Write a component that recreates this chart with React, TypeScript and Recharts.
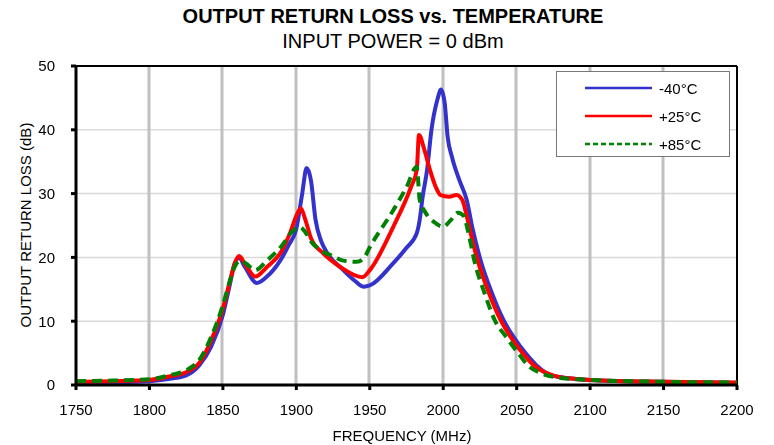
import React from 'react';
import { LineChart, Line, XAxis, YAxis, CartesianGrid, ReferenceLine } from 'recharts';

// Frequency ticks and return loss ticks
const FREQ_TICKS = [1750, 1800, 1850, 1900, 1950, 2000, 2050, 2100, 2150, 2200];
const LOSS_TICKS = [0, 10, 20, 30, 40, 50];

// -40°C
const coldFreq = [1750, 1775, 1800, 1815, 1825, 1834, 1842, 1850, 1855, 1858, 1861, 1865, 1873, 1880, 1889, 1895, 1900, 1904, 1907, 1910, 1913, 1917, 1921, 1932, 1940, 1946, 1950, 1966, 1975, 1982, 1984, 1986, 1989, 1992, 1996, 1998.5, 2001, 2003, 2006, 2011, 2016, 2020, 2026, 2033, 2041, 2048, 2056, 2063, 2070, 2080, 2100, 2150, 2200];
const coldLoss = [0.3, 0.4, 0.6, 1.0, 1.5, 3.1, 6, 11, 16, 19, 19.9, 18.5, 16, 17, 19.5, 22, 24.5, 30, 34, 32, 26, 22.5, 20.7, 18, 16.3, 15.4, 15.6, 19.1, 21.5, 23.8, 25.9, 29.5, 33.7, 40, 44.7, 46.3, 44.2, 38.9, 35.7, 32.1, 29, 24.5, 19.1, 14.5, 10.2, 7.5, 5.0, 3.2, 1.9, 1.2, 0.8, 0.5, 0.3];

// +25°C
const roomFreq = [1750, 1775, 1800, 1815, 1825, 1835, 1842, 1850, 1855, 1858, 1861, 1865, 1872, 1880, 1890, 1896, 1900, 1903, 1906, 1910, 1918, 1930, 1945, 1950, 1966, 1978, 1982, 1983.5, 1987, 1991, 1995, 1998, 2004, 2009, 2013, 2016, 2020, 2024, 2031, 2039, 2046, 2054, 2062, 2070, 2080, 2100, 2150, 2200];
const roomLoss = [0.5, 0.6, 0.8, 1.4, 2.0, 3.8, 7, 12, 16.5, 19, 20.2, 19, 17, 18.5, 21, 24, 26.5, 27.7, 26, 23, 20.7, 18.5, 16.9, 18, 24.8, 31, 33.7, 39.2, 37, 33.7, 31, 29.8, 29.5, 29.8, 29, 26.5, 22.5, 19.1, 14.5, 10.2, 7.5, 5, 3, 1.9, 1.2, 0.8, 0.5, 0.4];

// +85°C
const hotFreq = [1750, 1775, 1800, 1815, 1825, 1835, 1842, 1850, 1855, 1858, 1862, 1866, 1872, 1880, 1890, 1897, 1902, 1906, 1910, 1916, 1924, 1932, 1941, 1946, 1950, 1966, 1975, 1982, 1984, 1988, 1994, 2000, 2005, 2010, 2014, 2017, 2021.6, 2028, 2035, 2043, 2051, 2058, 2066, 2080, 2100, 2150, 2200];
const hotLoss = [0.6, 0.7, 0.9, 1.6, 2.3, 4.3, 7.5, 12.5, 16.5, 18.5, 19.5, 19, 18, 19.5, 21.8, 24, 24.8, 24, 22.5, 21.2, 20.3, 19.5, 19.3, 19.9, 21.6, 27.4, 31, 34.2, 29, 27, 25.5, 24.8, 25.8, 27, 26.5, 24, 19.1, 14.5, 10.2, 7.5, 5, 3, 1.9, 1.1, 0.8, 0.5, 0.4];

const toPoints = (f: number[], v: number[]) => f.map((freq, i) => ({ freq, loss: v[i] }));

const series = [
  { name: '-40°C', data: toPoints(coldFreq, coldLoss), color: '#3333cc', dash: undefined },
  { name: '+25°C', data: toPoints(roomFreq, roomLoss), color: '#ff0000', dash: undefined },
  { name: '+85°C', data: toPoints(hotFreq, hotLoss), color: '#008000', dash: '10 6' },
];

const FONT = '"Liberation Sans", Arial, sans-serif';

function LegendBox() {
  return (
    <div style={{ position: 'absolute', left: 556, top: 71, width: 174, height: 86, border: '1px solid #777', background: '#fff', boxSizing: 'border-box', paddingTop: 2, fontSize: 15 }}>
      {series.map((s) => (
        <div key={s.name} style={{ display: 'flex', alignItems: 'center', height: 28 }}>
          <svg width={70} height={6} style={{ marginLeft: 28 }}>
            <line x1={0} y1={3} x2={67} y2={3} stroke={s.color} strokeWidth={2.5} strokeDasharray={s.dash ? '5 3' : undefined} />
          </svg>
          <span style={{ marginLeft: 4, color: '#000' }}>{s.name}</span>
        </div>
      ))}
    </div>
  );
}

export default function App() {
  return (
    <div style={{ position: 'fixed', left: 0, top: 0, width: 774, height: 445, background: '#fff', fontFamily: FONT }}>
      <div style={{ position: 'absolute', top: 5, left: 0, width: 786, textAlign: 'center', fontSize: 20, fontWeight: 'bold' }}>
        OUTPUT RETURN LOSS vs. TEMPERATURE
      </div>
      <div style={{ position: 'absolute', top: 30, left: 0, width: 786, textAlign: 'center', fontSize: 20 }}>
        INPUT POWER = 0 dBm
      </div>
      <div style={{ position: 'absolute', left: 25, top: 225, transform: 'translate(-50%, -50%) rotate(-90deg)', whiteSpace: 'nowrap', fontSize: 15 }}>
        OUTPUT RETURN LOSS (dB)
      </div>
      <div style={{ position: 'absolute', left: 0, top: 427, width: 804, textAlign: 'center', fontSize: 15 }}>
        FREQUENCY (MHz)
      </div>
      <LineChart width={774} height={445} margin={{ top: 66, right: 37, left: 16, bottom: 0 }} style={{ position: 'absolute', left: 0, top: 0 }}>
        <CartesianGrid vertical={false} stroke="#d9d9d9" strokeWidth={1.5} />
        <CartesianGrid horizontal={false} stroke="#c0c0c0" strokeWidth={3} verticalPoints={[149, 222, 296, 369, 443, 516, 590, 663]} />
        <XAxis
          type="number"
          dataKey="freq"
          domain={[1750, 2200]}
          ticks={FREQ_TICKS}
          height={60}
          allowDuplicatedCategory={false}
          stroke="#000"
          strokeWidth={3}
          tickSize={5}
          tickMargin={14}
          tick={{ fill: '#000', fontSize: 15, fontFamily: FONT }}
        />
        <YAxis
          type="number"
          domain={[0, 50]}
          ticks={LOSS_TICKS}
          width={60}
          stroke="#000"
          strokeWidth={3}
          tickSize={5}
          tickMargin={16}
          tick={{ fill: '#000', fontSize: 15, fontFamily: FONT }}
        />
        <ReferenceLine y={50} stroke="#000" strokeWidth={2} />
        <ReferenceLine x={2200} stroke="#000" strokeWidth={2} />
        {series.map((s) => (
          <Line
            key={s.name}
            data={s.data}
            dataKey="loss"
            name={s.name}
            type="monotone"
            stroke={s.color}
            strokeWidth={4}
            strokeDasharray={s.dash}
            dot={false}
            activeDot={false}
            isAnimationActive={false}
          />
        ))}
      </LineChart>
      <LegendBox />
    </div>
  );
}
